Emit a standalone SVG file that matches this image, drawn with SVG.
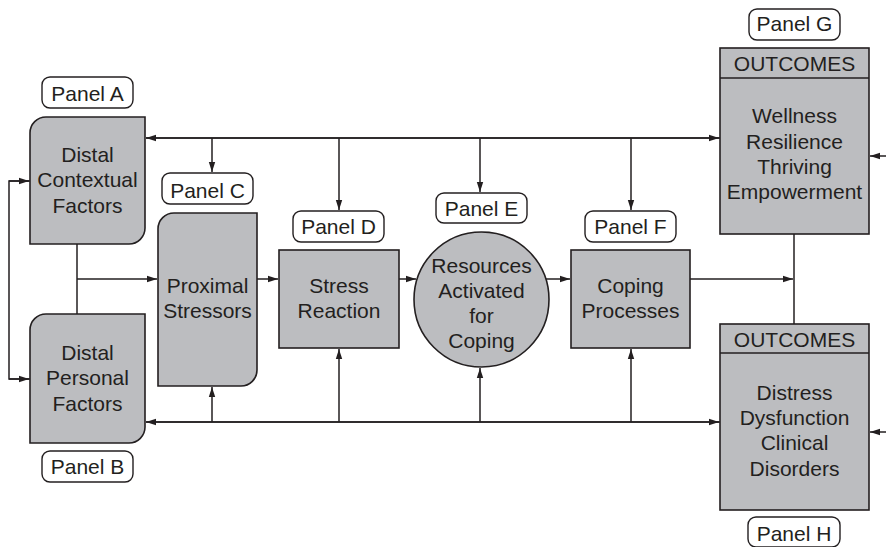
<svg xmlns="http://www.w3.org/2000/svg" width="886" height="547" viewBox="0 0 886 547">
<defs>
<marker id="ah" markerUnits="userSpaceOnUse" markerWidth="10" markerHeight="8" refX="10" refY="4" orient="auto">
<path d="M0,0.8 L10,4 L0,7.2 Z" fill="#231f20"/>
</marker>
<style>
.box{fill:#bcbdc0;stroke:#231f20;stroke-width:1.6}
.lbl{fill:#fff;stroke:#231f20;stroke-width:1.4}
.ln{fill:none;stroke:#231f20;stroke-width:1.5}
.ar{fill:none;stroke:#231f20;stroke-width:1.5;marker-end:url(#ah)}
text{font-family:"Liberation Sans",Arial,sans-serif;font-size:21px;fill:#231f20;text-anchor:middle}
</style>
</defs>
<rect width="886" height="547" fill="#fff"/>
<g id="connectors">
<line class="ar" x1="720" y1="138" x2="146" y2="138"/>
<line class="ar" x1="146" y1="138" x2="719" y2="138"/>
<line class="ar" x1="212" y1="138" x2="212" y2="172"/>
<line class="ar" x1="339" y1="138" x2="339" y2="210"/>
<line class="ar" x1="480" y1="138" x2="480" y2="192"/>
<line class="ar" x1="631" y1="138" x2="631" y2="210"/>
<line class="ar" x1="720" y1="422" x2="146" y2="422"/>
<line class="ar" x1="146" y1="422" x2="719" y2="422"/>
<line class="ar" x1="212" y1="422" x2="212" y2="387"/>
<line class="ar" x1="339" y1="422" x2="339" y2="349"/>
<line class="ar" x1="480" y1="422" x2="480" y2="368"/>
<line class="ar" x1="631" y1="422" x2="631" y2="349"/>
<polyline class="ln" points="30,181 9,181 9,379 30,379"/>
<line class="ar" x1="9" y1="181" x2="29" y2="181"/>
<line class="ar" x1="9" y1="379" x2="29" y2="379"/>
<line class="ln" x1="77" y1="244" x2="77" y2="314"/>
<line class="ar" x1="77" y1="279" x2="157" y2="279"/>
<line class="ar" x1="257" y1="279" x2="278" y2="279"/>
<line class="ar" x1="399" y1="279" x2="416" y2="279"/>
<line class="ar" x1="545" y1="279" x2="570" y2="279"/>
<line class="ar" x1="690" y1="279" x2="793" y2="279"/>
<line class="ln" x1="794" y1="234" x2="794" y2="324"/>
<line class="ar" x1="886" y1="156" x2="870" y2="156"/>
<line class="ar" x1="886" y1="432" x2="870" y2="432"/>
</g>
<g id="panelA"><rect class="lbl" x="42" y="77" width="91" height="31" rx="8"/><text x="87.5" y="101">Panel A</text></g>
<g id="distalContextual">
<path class="box" d="M46,117 H145 V228 A16,16 0 0 1 129,244 H30 V133 A16,16 0 0 1 46,117 Z"/>
<text x="87.5" y="162">Distal</text><text x="87.5" y="187">Contextual</text><text x="87.5" y="213">Factors</text>
</g>
<g id="distalPersonal">
<path class="box" d="M46,314 H145 V427 A16,16 0 0 1 129,443 H30 V330 A16,16 0 0 1 46,314 Z"/>
<text x="87.5" y="360">Distal</text><text x="87.5" y="385">Personal</text><text x="87.5" y="411">Factors</text>
</g>
<g id="panelB"><rect class="lbl" x="42" y="451" width="91" height="31" rx="8"/><text x="87.5" y="474">Panel B</text></g>
<g id="panelC"><rect class="lbl" x="162" y="173" width="91" height="31" rx="8"/><text x="207.5" y="198">Panel C</text></g>
<g id="proximalStressors">
<path class="box" d="M174,213 H257 V370 A16,16 0 0 1 241,386 H158 V229 A16,16 0 0 1 174,213 Z"/>
<text x="207.5" y="293">Proximal</text><text x="207.5" y="318">Stressors</text>
</g>
<g id="panelD"><rect class="lbl" x="293" y="211" width="91" height="31" rx="8"/><text x="338.5" y="234">Panel D</text></g>
<g id="stressReaction">
<rect class="box" x="279" y="250" width="120" height="98"/>
<text x="339" y="293">Stress</text><text x="339" y="318">Reaction</text>
</g>
<g id="panelE"><rect class="lbl" x="436" y="193" width="91" height="30" rx="8"/><text x="481.5" y="216">Panel E</text></g>
<g id="resources">
<circle class="box" cx="481.5" cy="299.5" r="67.5"/>
<text x="481.5" y="273">Resources</text><text x="481.5" y="298">Activated</text><text x="481.5" y="323">for</text><text x="481.5" y="348">Coping</text>
</g>
<g id="panelF"><rect class="lbl" x="585" y="211" width="91" height="31" rx="8"/><text x="630.5" y="234">Panel F</text></g>
<g id="copingProcesses">
<rect class="box" x="571" y="250" width="119" height="98"/>
<text x="630.5" y="293">Coping</text><text x="630.5" y="318">Processes</text>
</g>
<g id="panelG"><rect class="lbl" x="749" y="9" width="91" height="31" rx="8"/><text x="794.5" y="31">Panel G</text></g>
<g id="outcomesPositive">
<rect class="box" x="720" y="48" width="149" height="186"/>
<line class="ln" x1="720" y1="78" x2="869" y2="78"/>
<text x="794.5" y="71">OUTCOMES</text>
<text x="794.5" y="123">Wellness</text><text x="794.5" y="149">Resilience</text><text x="794.5" y="174">Thriving</text><text x="794.5" y="199">Empowerment</text>
</g>
<g id="outcomesNegative">
<rect class="box" x="720" y="324" width="149" height="186"/>
<line class="ln" x1="720" y1="353" x2="869" y2="353"/>
<text x="794.5" y="347">OUTCOMES</text>
<text x="794.5" y="400">Distress</text><text x="794.5" y="425">Dysfunction</text><text x="794.5" y="450">Clinical</text><text x="794.5" y="476">Disorders</text>
</g>
<g id="panelH"><rect class="lbl" x="748" y="517" width="92" height="30" rx="8"/><text x="794" y="541">Panel H</text></g>
</svg>
